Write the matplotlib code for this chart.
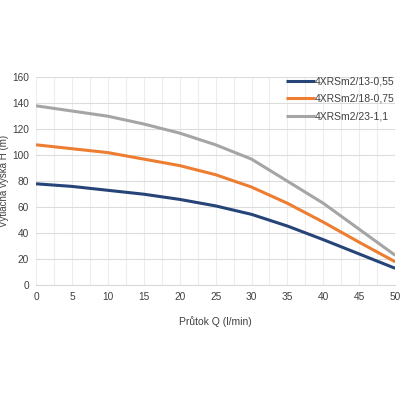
import matplotlib
matplotlib.use("Agg")
import matplotlib.pyplot as plt
from matplotlib.ticker import MultipleLocator

plt.rcParams['font.family'] = ['Liberation Sans', 'DejaVu Sans']

q = [0, 5, 10, 15, 20, 25, 30, 35, 40, 45, 50]
h_13 = [78, 76, 73, 70, 66, 61, 54.5, 45.5, 35, 24, 13]
h_18 = [108, 105, 102, 97, 92, 85, 75.5, 63, 48.5, 33, 18]
h_23 = [138, 134, 130, 124, 117, 108, 97, 80, 63, 43, 23]
names = ["4XRSm2/13-0,55", "4XRSm2/18-0,75", "4XRSm2/23-1,1"]
colors = ["#264478", "#ED7D31", "#A5A5A5"]

fig = plt.figure(figsize=(4, 4), dpi=100)
ax = fig.add_axes([0.09, 0.287, 0.898, 0.52])

for h, name, c in zip([h_13, h_18, h_23], names, colors):
    ax.plot(q, h, color=c, lw=2.2, label=name, solid_capstyle='butt')

ax.set_xlim(0, 50)
ax.set_ylim(0, 160)
ax.xaxis.set_major_locator(MultipleLocator(5))
ax.xaxis.set_minor_locator(MultipleLocator(2.5))
ax.yaxis.set_major_locator(MultipleLocator(20))
ax.grid(which='both', axis='x', color='#EDEDED', lw=0.8)
ax.grid(which='major', axis='y', color='#DCDCDC', lw=0.8)
ax.set_axisbelow(True)
for s in ['top', 'right', 'left']:
    ax.spines[s].set_visible(False)
ax.spines['bottom'].set_color('#D9D9D9')
ax.tick_params(which='both', length=0, labelsize=7.3, colors='#404040')
ax.tick_params(axis='x', pad=5)
ax.tick_params(axis='y', pad=5)

ax.set_xlabel("Průtok Q (l/min)", fontsize=7.5, color='#404040', labelpad=10)
ax.set_ylabel("Výtlačná výška H (m)", fontsize=7, color='#404040')
ax.yaxis.set_label_coords(-0.076, 0.5)

leg = ax.legend(loc='upper right', bbox_to_anchor=(1.025, 1.05), frameon=False,
                fontsize=7.5, handlelength=2.7, handletextpad=0.05, labelspacing=0.75)
for t in leg.get_texts():
    t.set_color('#404040')

fig.savefig("out.png", dpi=100)
